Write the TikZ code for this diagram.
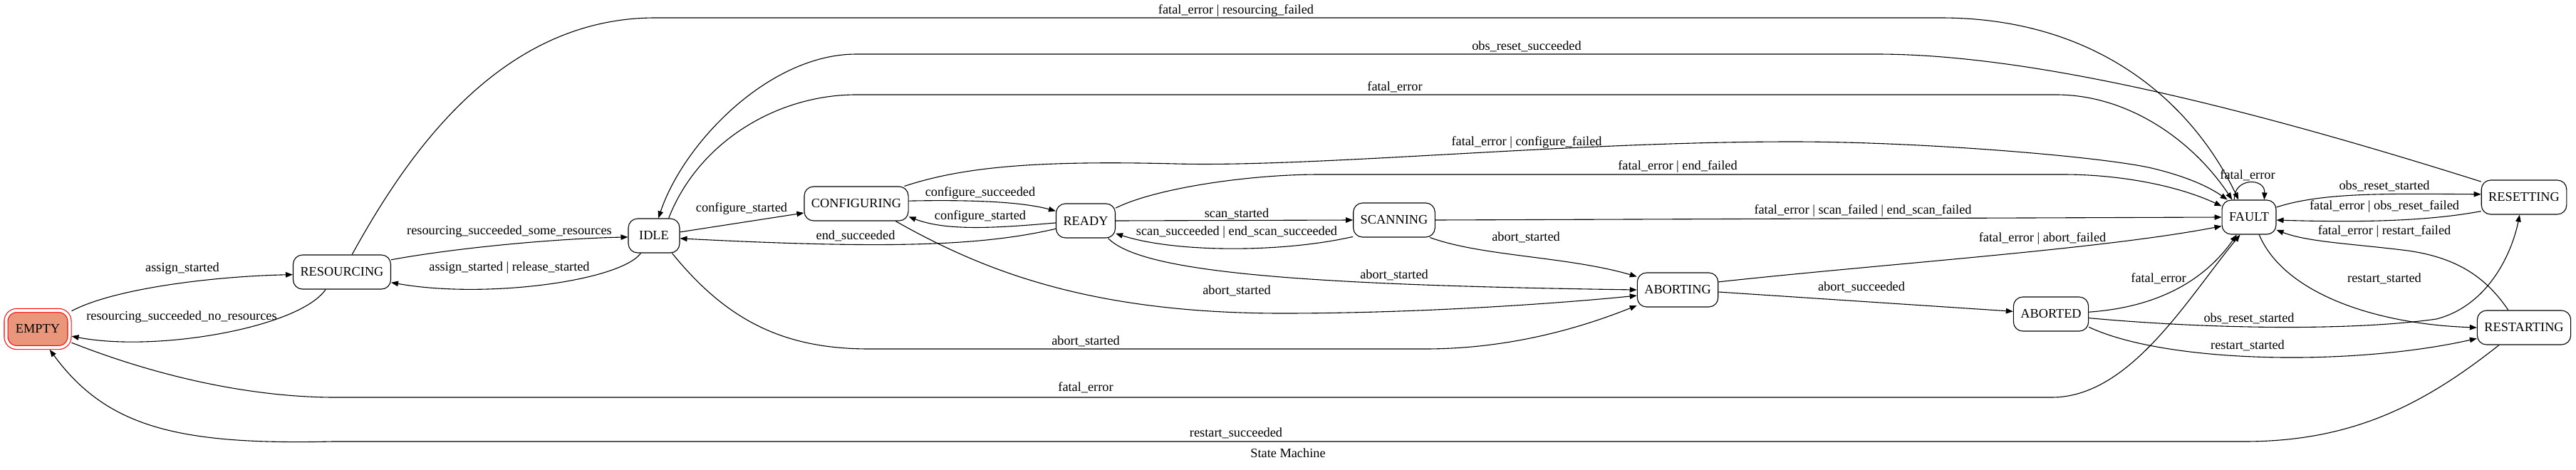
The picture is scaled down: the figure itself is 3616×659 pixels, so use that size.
\documentclass[tikz,border=0pt]{standalone}
\usepackage[svgnames]{xcolor}
\usepackage{fontspec}
\setmainfont{Liberation Serif}
\usetikzlibrary{arrows.meta}

\begin{document}
\begin{tikzpicture}[x=1pt,y=-1pt,
    state/.style={draw,line width=1.1pt,rounded corners=13pt,minimum width=72pt,
      minimum height=48pt,inner xsep=10pt,font=\gvfont},
    lbl/.style={inner sep=0pt,text height=12pt,text depth=3pt,font=\gvfont},
    edge/.style={line width=1.1pt,-{Triangle[length=10pt,width=7.5pt]}}]
  \def\gvfont{\fontsize{18.3}{22}\selectfont}
  \useasboundingbox (0,0) rectangle (3616,659);

  % states
  \node (empty) at (53,462) [state,draw=Red,fill=DarkSalmon,double=white,double distance=4pt,
     minimum width=89pt,minimum height=52pt,rounded corners=15pt,outer sep=3pt] {EMPTY};
  \node (resourcing) at (480,382) [state] {RESOURCING};
  \node (idle) at (918,331) [state] {IDLE};
  \node (configuring) at (1202,286) [state] {CONFIGURING};
  \node (ready) at (1524,310) [state] {READY};
  \node (scanning) at (1957,309) [state] {SCANNING};
  \node (aborting) at (2355,407) [state] {ABORTING};
  \node (aborted) at (2879,441) [state] {ABORTED};
  \node (fault) at (3157,305) [state] {FAULT};
  \node (resetting) at (3543,277) [state] {RESETTING};
  \node (restarting) at (3543,460) [state] {RESTARTING};

  % left side
  \draw[edge] (empty.28) .. controls (160,405) and (300,388) .. (resourcing.183);
  \node (l1) at (256,377) [lbl] {assign\_started};
  \draw[edge] (resourcing.227) .. controls (420,460) and (220,495) .. (empty.-12);
  \node (l2) at (255,445) [lbl] {resourcing\_succeeded\_no\_resources};
  \draw[edge] (resourcing.14) .. controls (640,348) and (780,335) .. (idle.183);
  \node (l3) at (715,325) [lbl] {resourcing\_succeeded\_some\_resources};
  \draw[edge] (idle.233) .. controls (870,395) and (680,420) .. (resourcing.-12);
  \node (l4) at (715,376) [lbl] {assign\_started | release\_started};
  \draw[edge] (idle.8) -- (configuring.190);
  \node (l5) at (1041,293) [lbl] {configure\_started};
  \draw[edge] (configuring.3) .. controls (1380,280) and (1440,285) .. (ready.162);
  \node (l6) at (1376,271) [lbl] {configure\_succeeded};
  \draw[edge] (ready.184) .. controls (1400,320) and (1330,325) .. (configuring.-14);
  \node (l7) at (1376,304) [lbl] {configure\_started};
  \draw[edge] (ready.195) .. controls (1380,345) and (1250,350) .. (idle.-6);
  \node (l8) at (1201,332) [lbl] {end\_succeeded};
  \draw[edge] (ready.east) -- (scanning.west);
  \node (l9) at (1736,301) [lbl] {scan\_started};
  \draw[edge] (scanning.202) .. controls (1800,355) and (1650,355) .. (ready.-23);
  \node (l10) at (1736,326) [lbl] {scan\_succeeded | end\_scan\_succeeded};

  % into aborting
  \draw[edge] (ready.-38) .. controls (1600,380) and (1800,400) .. (aborting.west);
  \node (l11) at (1957,387) [lbl] {abort\_started};
  \draw[edge] (configuring.-24) .. controls (1380,380) and (1530,440) .. (1800,440)
     .. controls (2000,440) and (2200,425) .. (aborting.188);
  \node (l12) at (1736,409) [lbl] {abort\_started};
  \draw[edge] (idle.-44) .. controls (1020,450) and (1100,490) .. (1220,490) -- (2000,490)
     .. controls (2120,490) and (2220,460) .. (aborting.201);
  \node (l13) at (1524,480) [lbl] {abort\_started};
  \draw[edge] (scanning.-26) .. controls (2080,360) and (2200,360) .. (aborting.162);
  \node (l14) at (2142,334) [lbl] {abort\_started};
  \draw[edge] (aborting.-3) -- (aborted.176);
  \node (l15) at (2613,404) [lbl] {abort\_succeeded};

  % into fault
  \draw[edge] (resourcing.60) .. controls (570,220) and (700,25) .. (920,25) -- (2724,25)
     .. controls (2950,25) and (3080,150) .. (fault.121);
  \node (l16) at (1735,15) [lbl] {fatal\_error | resourcing\_failed};
  \draw[edge] (idle.50) .. controls (980,200) and (1090,133) .. (1202,133) -- (2886,133)
     .. controls (2990,133) and (3080,200) .. (fault.134);
  \node (l17) at (1958,123) [lbl] {fatal\_error};
  \draw[edge] (configuring.20) .. controls (1350,235) and (1450,225) .. (1650,230)
     .. controls (1850,235) and (2200,199) .. (2516,199)
     .. controls (2700,199) and (2950,220) .. (3020,236)
     .. controls (3070,248) and (3100,262) .. (fault.141);
  \node (l18) at (2143,200) [lbl] {fatal\_error | configure\_failed};
  \draw[edge] (ready.23) .. controls (1620,265) and (1750,245) .. (1852,245) -- (2896,245)
     .. controls (2980,245) and (3060,262) .. (fault.158);
  \node (l19) at (2355,234) [lbl] {fatal\_error | end\_failed};
  \draw[edge] (scanning.east) -- (fault.west);
  \node (l20) at (2615,296) [lbl] {fatal\_error | scan\_failed | end\_scan\_failed};
  \draw[edge] (aborting.11) .. controls (2650,370) and (2950,350) .. (fault.198);
  \node (l21) at (2867,335) [lbl] {fatal\_error | abort\_failed};
  \draw[edge] (aborted.3) .. controls (3020,432) and (3090,400) .. (fault.-125);
  \node (l22) at (3030,392) [lbl] {fatal\_error};
  \draw[edge] (empty.-22) .. controls (250,540) and (380,558) .. (470,558) -- (2880,558)
     .. controls (2990,558) and (3070,420) .. (fault.-117);
  \node (l23) at (1524,545) [lbl] {fatal\_error};
  \draw[edge] (fault.130) .. controls (3135,249) and (3180,249) .. (fault.49);
  \node (l24) at (3155,247) [lbl] {fatal\_error};

  % right side
  \draw[edge] (fault.20) .. controls (3260,270) and (3350,272) .. (resetting.176);
  \node (l25) at (3347,262) [lbl] {obs\_reset\_started};
  \draw[edge] (resetting.198) .. controls (3400,312) and (3300,312) .. (fault.-6);
  \node (l26) at (3347,290) [lbl] {fatal\_error | obs\_reset\_failed};
  \draw[edge] (restarting.132) .. controls (3490,390) and (3450,362) .. (3380,352)
     .. controls (3300,342) and (3240,340) .. (fault.-25);
  \node (l27) at (3347,325) [lbl] {fatal\_error | restart\_failed};
  \draw[edge] (fault.-60) .. controls (3205,410) and (3330,455) .. (restarting.west);
  \node (l28) at (3347,392) [lbl] {restart\_started};
  \draw[edge] (aborted.-6) .. controls (3100,462) and (3300,465) .. (3420,448)
     .. controls (3490,430) and (3525,360) .. (resetting.256);
  \node (l29) at (3157,448) [lbl] {obs\_reset\_started};
  \draw[edge] (aborted.-19) .. controls (3040,510) and (3300,515) .. (restarting.193);
  \node (l30) at (3155,486) [lbl] {restart\_started};

  % long way back
  \draw[edge] (resetting.160) .. controls (3150,150) and (2850,76) .. (2634,76) -- (1202,76)
     .. controls (1080,76) and (960,200) .. (idle.76);
  \node (l31) at (2143,66) [lbl] {obs\_reset\_succeeded};
  \draw[edge] (restarting.215) .. controls (3400,570) and (3300,620) .. (3150,620) -- (467,620)
     .. controls (250,625) and (150,600) .. (empty.-60);
  \node (l32) at (1735,609) [lbl] {restart\_succeeded};

  \node (caption) at (1808,638) [lbl] {State Machine};
\end{tikzpicture}
\end{document}
